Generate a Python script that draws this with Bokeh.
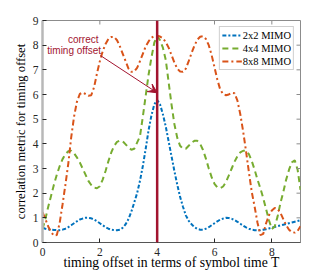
import math
from bokeh.plotting import figure
from bokeh.models import Range1d, Label, Arrow, VeeHead, Span, FixedTicker
from bokeh.embed import file_html
from bokeh.resources import INLINE

# ---------------- data ----------------
timing_offset = [i / 10 for i in range(91)]  # sample grid 0.0 .. 9.0

mimo_2x2 = [0.60, 0.56, 0.53, 0.52, 0.51, 0.50, 0.50, 0.52, 0.56, 0.62,
            0.70, 0.78, 0.86, 0.93, 0.97, 1.00, 1.00, 0.98, 0.93, 0.86,
            0.78, 0.70, 0.62, 0.56, 0.52, 0.50, 0.50, 0.52, 0.60, 0.74,
            0.95, 1.25, 1.62, 2.00, 2.50, 3.10, 3.80, 4.55, 5.15, 5.60,
            5.78, 5.60, 5.20, 4.70, 4.10, 3.50, 2.90, 2.35, 1.85, 1.45,
            1.10, 0.88, 0.74, 0.62, 0.55, 0.52, 0.52, 0.56, 0.62, 0.70,
            0.78, 0.86, 0.93, 0.97, 1.00, 0.99, 0.96, 0.91, 0.84, 0.76,
            0.68, 0.61, 0.56, 0.52, 0.50, 0.50, 0.50, 0.52, 0.54, 0.57,
            0.60, 0.63, 0.66, 0.69, 0.72, 0.75, 0.78, 0.81, 0.84, 0.87,
            0.90]

mimo_4x4 = [0.55, 0.95, 1.45, 1.90, 2.35, 2.75, 3.10, 3.38, 3.58, 3.70,
            3.72, 3.62, 3.45, 3.25, 3.00, 2.75, 2.50, 2.33, 2.22, 2.20,
            2.28, 2.55, 2.90, 3.30, 3.65, 3.92, 4.08, 4.13, 4.10, 3.98,
            3.85, 3.76, 3.80, 4.05, 4.30, 5.10, 5.95, 6.80, 7.50, 8.10,
            8.37, 8.20, 7.90, 7.40, 6.50, 5.60, 4.80, 4.25, 3.92, 3.80,
            3.80, 3.92, 4.05, 4.12, 4.12, 4.00, 3.75, 3.40, 3.00, 2.65,
            2.38, 2.23, 2.20, 2.27, 2.45, 2.72, 3.00, 3.28, 3.50, 3.65,
            3.72, 3.72, 3.58, 3.30, 2.95, 2.55, 2.20, 1.80, 1.35, 0.90,
            0.55, 0.65, 1.05, 1.60, 2.05, 2.55, 2.95, 3.25, 3.33, 2.95,
            2.13]

mimo_8x8 = [1.23, 0.95, 0.65, 0.42, 0.28, 0.30, 0.80, 1.55, 2.35, 3.20,
            4.25, 5.10, 5.70, 6.02, 6.08, 6.02, 5.95, 5.97, 6.30, 6.85,
            7.35, 7.75, 8.05, 8.25, 8.33, 8.33, 8.20, 7.95, 7.65, 7.35,
            7.05, 6.92, 6.93, 7.08, 7.35, 7.65, 7.95, 8.15, 8.30, 8.37,
            8.38, 8.35, 8.28, 8.12, 7.90, 7.60, 7.30, 7.05, 6.93, 6.92,
            7.05, 7.35, 7.68, 7.98, 8.22, 8.34, 8.36, 8.25, 8.00, 7.60,
            7.10, 6.60, 6.20, 6.02, 5.97, 6.00, 6.07, 6.05, 5.75, 5.20,
            4.50, 3.70, 2.85, 2.05, 1.45, 0.80, 0.30, 0.35, 0.78, 1.10,
            1.30, 1.40, 1.36, 1.20, 0.95, 0.70, 0.52, 0.42, 0.40, 0.47,
            0.66]

series_names = ["2x2 MIMO", "4x4 MIMO", "8x8 MIMO"]
x_ticks = [0, 2, 4, 6, 8]
y_ticks = [0, 1, 2, 3, 4, 5, 6, 7, 8, 9]
x_min, x_max = 0, 9
y_min, y_max = 0, 9
correct_offset = 4

# ---------------- styling ----------------
SERIF = "Liberation Serif"
SANS = "Liberation Sans"
TXT = "#262626"
BOX = "#8c8c8c"
RED = "#A2142F"
colors = ["#0072BD", "#77AC30", "#D95319"]
dashes = ["4 2 2 2", "6 4", "6 3 2 3"]

p = figure(width=324, height=272, output_backend="svg", toolbar_location=None,
           x_range=Range1d(x_min, x_max), y_range=Range1d(y_min, y_max),
           min_border_left=42, min_border_right=24, min_border_top=20, min_border_bottom=29)
p.background_fill_color = "white"
p.border_fill_color = "white"
p.grid.visible = False
p.outline_line_color = BOX
p.outline_line_width = 1

for ys, name, c, d in zip([mimo_2x2, mimo_4x4, mimo_8x8], series_names, colors, dashes):
    p.line(timing_offset, ys, line_color=c, line_width=2, line_dash=d, legend_label=name)

p.add_layout(Span(location=correct_offset, dimension="height", line_color=RED, line_width=2.5))

# box ticks on top and right (inward)
p.ray(x=x_ticks, y=[y_max] * len(x_ticks), length=4, length_units="screen",
      angle=-math.pi / 2, line_color=BOX, line_width=1)
p.ray(x=[x_max] * len(y_ticks), y=y_ticks, length=4, length_units="screen",
      angle=math.pi, line_color=BOX, line_width=1)

# main axes
for ax in (p.xaxis[0], p.yaxis[0]):
    ax.major_tick_in = 4
    ax.major_tick_out = 0
    ax.minor_tick_line_color = None
    ax.major_tick_line_color = TXT
    ax.major_label_text_font = SERIF
    ax.major_label_text_font_size = "11.5px"
    ax.major_label_text_color = TXT
    ax.axis_label_text_font = SERIF
    ax.axis_label_text_font_style = "normal"
    ax.axis_label_text_color = "#000000"
p.xaxis.ticker = FixedTicker(ticks=x_ticks)
p.yaxis.ticker = FixedTicker(ticks=y_ticks)
p.xaxis.major_label_standoff = 5
p.yaxis.major_label_standoff = 4
p.xaxis.axis_line_color = "#555555"
p.yaxis.axis_line_color = "#b8b8b8"
p.yaxis.axis_line_width = 2.5

p.xaxis.axis_label = "timing offset in terms of symbol time T"
p.xaxis.axis_label_text_font_size = "13.7px"
p.xaxis.axis_label_standoff = -4
p.yaxis.axis_label = "correlation metric for timing offset"
p.yaxis.axis_label_text_font_size = "12.6px"
p.yaxis.axis_label_standoff = 2

# annotation
p.add_layout(Label(x=1.42, y=8.23, text="correct", text_align="center", text_baseline="alphabetic",
                   text_font=SANS, text_font_size="10px", text_color=RED))
p.add_layout(Label(x=1.105, y=7.77, text="timing offset", text_align="center",
                   text_baseline="alphabetic", text_font=SANS, text_font_size="10px",
                   text_color=RED))
p.add_layout(Arrow(end=VeeHead(size=9, fill_color=RED, line_color=RED, line_width=1),
                   x_start=2.02, y_start=7.58, x_end=correct_offset, y_end=6.07,
                   line_color=RED, line_width=1))

# legend
lg = p.legend[0]
lg.location = "top_right"
lg.margin = 6
lg.padding = 2
lg.spacing = 1
lg.glyph_width = 20
lg.glyph_height = 12
lg.label_height = 12
lg.label_standoff = 1
lg.label_text_font = SERIF
lg.label_text_font_size = "10.5px"
lg.label_text_color = "#000000"
lg.border_line_color = "#a0a0a0"
lg.border_line_width = 1.2
lg.background_fill_alpha = 1

open("out.html", "w").write(file_html(p, INLINE))
